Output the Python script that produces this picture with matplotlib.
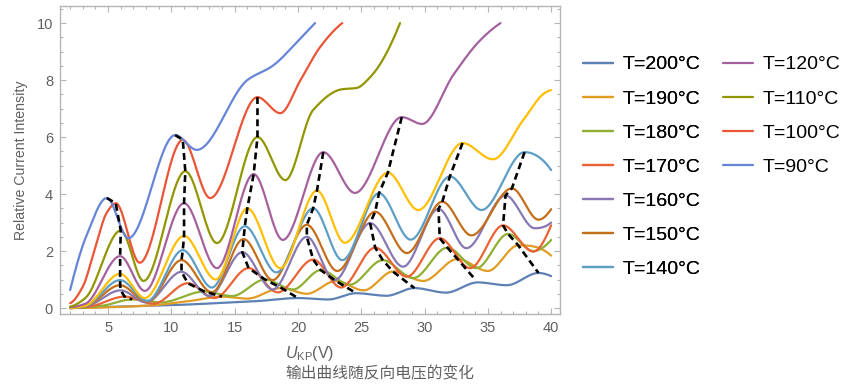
import numpy as np
import matplotlib
matplotlib.use('Agg')
import matplotlib.pyplot as plt
from matplotlib.ticker import MultipleLocator

# legend labels and Mathematica default colours (same order)
LABELS = ['T=200°C', 'T=190°C', 'T=180°C', 'T=170°C', 'T=160°C', 'T=150°C',
          'T=140°C', 'T=130°C', 'T=120°C', 'T=110°C', 'T=100°C', 'T=90°C']
COLORS = ['#5E81B5', '#E19C24', '#8FB032', '#EB6235', '#8778B3', '#C56E1A',
          '#5D9EC7', '#FFBF00', '#A5609D', '#929600', '#E95536', '#6685D9']

# points (U in V, relative current)
X_200 = [2, 6, 10, 14, 17, 20.0, 22.4, 24.6, 27.0, 29.2, 31.7, 34.2, 36.5, 39.0, 40]
Y_200 = [0.0, 0.05, 0.1, 0.18, 0.25, 0.35, 0.3, 0.52, 0.43, 0.7, 0.54, 0.9, 0.8, 1.23, 1.12]

X_190 = [2, 8, 11.5, 14.0, 16.0, 18.7, 20.7, 23.0, 25.2, 27.5, 29.9, 32.6, 35.0, 37.4, 40]
Y_190 = [0.0, 0.08, 0.25, 0.4, 0.33, 0.7, 0.5, 0.95, 0.62, 1.28, 0.95, 1.72, 1.3, 2.2, 1.84]

X_180 = [2, 4.5, 6.9, 9.2, 12.6, 14.8, 17.4, 19.6, 21.8, 24.1, 26.7, 29.1, 31.8, 34.1, 36.6, 38.6, 40]
Y_180 = [0.0, 0.08, 0.3, 0.2, 0.58, 0.42, 1.0, 0.65, 1.33, 0.82, 1.68, 1.05, 2.12, 1.4, 2.6, 2.0, 2.39]

X_170 = [2, 3.5, 6.3, 8.6, 11.3, 13.4, 16.1, 18.4, 21.2, 23.4, 26.1, 28.6, 31.2, 33.6, 36.2, 38.6, 40]
Y_170 = [0.0, 0.05, 0.4, 0.15, 0.87, 0.35, 1.4, 0.55, 1.7, 0.72, 2.12, 1.1, 2.45, 1.4, 2.9, 1.98, 2.9]

X_160 = [2, 3.2, 6.0, 8.0, 10.8, 13.0, 15.6, 18.0, 20.7, 22.9, 25.7, 28.3, 31.1, 33.3, 36.4, 38.7, 40]
Y_160 = [0.0, 0.05, 0.62, 0.2, 1.27, 0.42, 1.96, 0.65, 2.5, 0.98, 2.98, 1.45, 3.48, 2.1, 3.95, 2.8, 3.0]

X_150 = [2, 3.2, 5.95, 8.1, 10.8, 13.2, 15.7, 18.0, 20.7, 23.1, 26.1, 28.6, 31.4, 33.7, 36.9, 39.0, 40]
Y_150 = [0.0, 0.06, 0.8, 0.22, 1.68, 0.55, 2.42, 0.98, 2.92, 1.3, 3.38, 1.93, 3.73, 2.55, 4.2, 3.1, 3.47]

X_140 = [2, 3.2, 5.95, 8.1, 10.9, 13.2, 15.8, 18.3, 21.2, 23.5, 26.4, 28.9, 32.0, 34.5, 37.9, 40]
Y_140 = [0.0, 0.07, 0.98, 0.25, 2.03, 0.72, 2.87, 1.25, 3.5, 1.68, 4.03, 2.4, 4.62, 3.44, 5.47, 4.84]

X_130 = [2, 3.2, 5.95, 7.9, 11.0, 13.5, 16.0, 18.6, 21.5, 23.7, 27.1, 29.5, 33.0, 35.4, 37.8, 39.5, 40]
Y_130 = [0.0, 0.08, 1.2, 0.35, 2.53, 1.0, 3.5, 1.4, 4.12, 2.29, 4.75, 3.44, 5.79, 5.22, 6.6, 7.55, 7.65]

X_120 = [2, 3.2, 5.95, 7.9, 11.0, 13.6, 16.5, 18.8, 22.0, 24.5, 28.2, 29.8, 32.3, 34.4, 36.0]
Y_120 = [0.03, 0.15, 1.82, 0.6, 3.68, 1.4, 4.7, 2.39, 5.47, 4.04, 6.7, 6.46, 8.2, 9.4, 10.0]

X_110 = [2, 3.2, 6.0, 7.8, 11.1, 13.6, 16.8, 19.0, 21.2, 23.5, 24.6, 25.7, 28.06]
Y_110 = [0.05, 0.35, 2.72, 0.95, 4.8, 2.28, 6.0, 4.49, 6.95, 7.68, 7.72, 8.1, 10.0]

X_100 = [2, 3.0, 4.0, 4.9, 5.6, 7.5, 10.9, 13.06, 16.8, 18.6, 20.2, 21.75, 23.5]
Y_100 = [0.17, 0.75, 2.15, 3.35, 3.68, 1.59, 5.9, 3.86, 7.4, 6.84, 8.0, 9.16, 10.0]

X_90 = [2, 3.3, 4.9, 6.6, 10.3, 12.0, 16.0, 18.0, 20.2, 21.35]
Y_90 = [0.63, 2.55, 3.86, 2.45, 6.07, 5.55, 8.0, 8.5, 9.47, 10.0]

# dashed lines joining the n-th maxima
RIDGE_1_X = [4.9, 5.6, 6.0, 5.95, 5.95, 5.95, 5.95, 6.0, 6.3, 6.9]
RIDGE_1_Y = [3.86, 3.68, 2.72, 1.82, 1.2, 0.98, 0.8, 0.62, 0.4, 0.3]
RIDGE_2_X = [10.3, 10.9, 11.1, 11.0, 11.0, 10.9, 10.8, 10.8, 11.3, 12.6, 14.0]
RIDGE_2_Y = [6.07, 5.9, 4.8, 3.68, 2.53, 2.03, 1.68, 1.27, 0.87, 0.58, 0.4]
RIDGE_3_X = [16.8, 16.8, 16.5, 16.0, 15.8, 15.7, 15.6, 16.1, 17.4, 18.7, 20.0]
RIDGE_3_Y = [7.4, 6.0, 4.7, 3.5, 2.87, 2.42, 1.96, 1.4, 1.0, 0.7, 0.35]
RIDGE_4_X = [22.0, 21.5, 21.2, 20.7, 20.7, 21.2, 21.8, 23.0, 24.6]
RIDGE_4_Y = [5.47, 4.12, 3.5, 2.92, 2.5, 1.7, 1.33, 0.95, 0.52]
RIDGE_5_X = [28.2, 27.1, 26.4, 26.1, 25.7, 26.1, 26.7, 27.5, 29.2]
RIDGE_5_Y = [6.7, 4.75, 4.03, 3.38, 2.98, 2.12, 1.68, 1.28, 0.7]
RIDGE_6_X = [33.0, 32.0, 31.4, 31.1, 31.2, 31.8, 32.6, 34.0]
RIDGE_6_Y = [5.79, 4.62, 3.73, 3.48, 2.45, 2.12, 1.72, 1.0]
RIDGE_7_X = [37.9, 36.9, 36.4, 36.2, 36.6, 37.4, 39.0]
RIDGE_7_Y = [5.47, 4.2, 3.95, 2.9, 2.6, 2.2, 1.23]


def pchip(x, y, xs):
    # monotone cubic through the read points, keeps maxima where they were read
    x = np.asarray(x, float)
    y = np.asarray(y, float)
    h = np.diff(x)
    d = np.diff(y) / h
    n = len(x)
    m = np.zeros(n)
    for k in range(1, n - 1):
        if d[k - 1] * d[k] > 0:
            w1 = 2 * h[k] + h[k - 1]
            w2 = h[k] + 2 * h[k - 1]
            m[k] = (w1 + w2) / (w1 / d[k - 1] + w2 / d[k])
    if n > 2:
        m[0] = ((2 * h[0] + h[1]) * d[0] - h[0] * d[1]) / (h[0] + h[1])
        if np.sign(m[0]) != np.sign(d[0]):
            m[0] = 0
        elif np.sign(d[0]) != np.sign(d[1]) and abs(m[0]) > abs(3 * d[0]):
            m[0] = 3 * d[0]
        m[-1] = ((2 * h[-1] + h[-2]) * d[-1] - h[-1] * d[-2]) / (h[-1] + h[-2])
        if np.sign(m[-1]) != np.sign(d[-1]):
            m[-1] = 0
        elif np.sign(d[-1]) != np.sign(d[-2]) and abs(m[-1]) > abs(3 * d[-1]):
            m[-1] = 3 * d[-1]
    else:
        m[:] = d[0]
    idx = np.clip(np.searchsorted(x, xs) - 1, 0, n - 2)
    t = (xs - x[idx]) / h[idx]
    h00 = 2 * t**3 - 3 * t**2 + 1
    h10 = t**3 - 2 * t**2 + t
    h01 = -2 * t**3 + 3 * t**2
    h11 = t**3 - t**2
    return h00 * y[idx] + h10 * h[idx] * m[idx] + h01 * y[idx + 1] + h11 * h[idx] * m[idx + 1]


curves = [(X_200, Y_200), (X_190, Y_190), (X_180, Y_180), (X_170, Y_170),
          (X_160, Y_160), (X_150, Y_150), (X_140, Y_140), (X_130, Y_130),
          (X_120, Y_120), (X_110, Y_110), (X_100, Y_100), (X_90, Y_90)]
ridges = [(RIDGE_1_X, RIDGE_1_Y), (RIDGE_2_X, RIDGE_2_Y), (RIDGE_3_X, RIDGE_3_Y),
          (RIDGE_4_X, RIDGE_4_Y), (RIDGE_5_X, RIDGE_5_Y), (RIDGE_6_X, RIDGE_6_Y),
          (RIDGE_7_X, RIDGE_7_Y)]

plt.rcParams['font.family'] = ['Liberation Sans', 'Noto Sans CJK SC', 'DejaVu Sans']
plt.rcParams['mathtext.fontset'] = 'custom'
plt.rcParams['mathtext.rm'] = 'Liberation Sans'
plt.rcParams['mathtext.it'] = 'Liberation Sans:italic'

fig = plt.figure(figsize=(8.54, 3.84), dpi=100)
ax = fig.add_axes([60 / 854, 1 - 314 / 384, 500 / 854, 308 / 384])

lines = []
for (xs, ys), col, lab in zip(curves, COLORS, LABELS):
    xx = np.linspace(xs[0], xs[-1], 400)
    ln, = ax.plot(xx, pchip(xs, ys, xx), color=col, lw=1.6, label=lab,
                  solid_capstyle='round')
    lines.append(ln)

for rx, ry in ridges:
    ax.plot(rx, ry, color='black', lw=1.9, linestyle=(0, (2.6, 1.6)))

ax.set_xlim(1.2, 40.7)
ax.set_ylim(-0.21, 10.6)
ax.xaxis.set_major_locator(MultipleLocator(5))
ax.xaxis.set_minor_locator(MultipleLocator(1))
ax.yaxis.set_major_locator(MultipleLocator(2))
ax.yaxis.set_minor_locator(MultipleLocator(0.5))
ax.tick_params(which='both', direction='in', top=True, right=True,
               color='#b5b5b5', labelcolor='#606060', labelsize=10.5, width=0.8)
ax.tick_params(which='major', length=4.5, pad=5)
ax.tick_params(which='minor', length=2.5)
ax.set_xticks(np.arange(5, 41, 5))
for s in ax.spines.values():
    s.set_color('#b5b5b5')
    s.set_linewidth(1.0)

ax.set_ylabel('Relative Current Intensity', color='#606060', fontsize=10.2, labelpad=6)

fig.text(285 / 854, 1 - 358 / 384, r'$U_{\mathrm{KP}}$(V)', fontsize=11.5,
         color='#606060', ha='left', va='baseline')
fig.text(285 / 854, 1 - 378 / 384, '输出曲线随反向电压的变化', fontsize=11.3,
         color='#606060', ha='left', va='baseline',
         family=['Noto Sans CJK SC', 'DejaVu Sans'])

# the original legend lists 200..140 in the first column and 120..90 in the second
leg_kw = dict(loc='upper left', frameon=False, fontsize=14, handlelength=1.55,
              handletextpad=0.5, labelspacing=0.85, borderaxespad=0)
leg1 = fig.legend(lines[:7], LABELS[:7], bbox_to_anchor=(575 / 854, 1 - 48 / 384), **leg_kw)
fig.legend(lines[8:], LABELS[8:], bbox_to_anchor=(715 / 854, 1 - 48 / 384), **leg_kw)
fig.add_artist(leg1)

fig.savefig('out.png', dpi=100)
